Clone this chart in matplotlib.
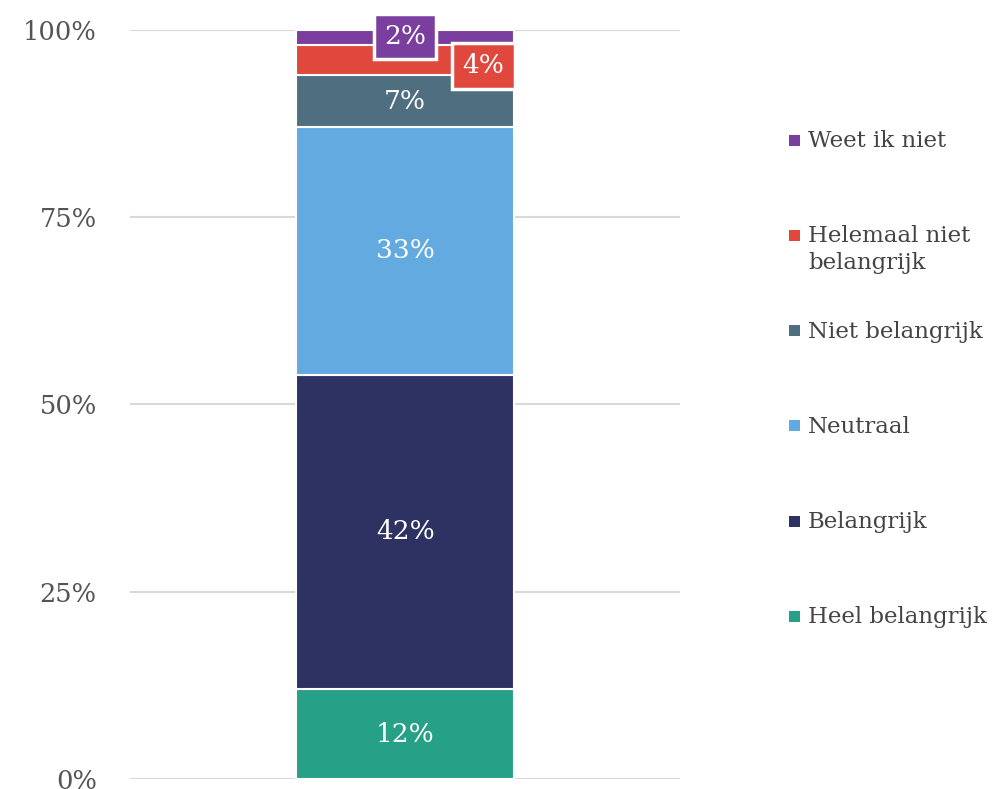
import matplotlib.pyplot as plt
from matplotlib.patches import Rectangle

# data (bottom -> top)
categories = ["Heel belangrijk", "Belangrijk", "Neutraal", "Niet belangrijk",
              "Helemaal niet\nbelangrijk", "Weet ik niet"]
values = [12, 42, 33, 7, 4, 2]
colors = ["#27a088", "#2e3262", "#62aae0", "#4f6f80", "#e0483d", "#7a3f9e"]
yticks = [0, 25, 50, 75, 100]
ytick_labels = ["0%", "25%", "50%", "75%", "100%"]

plt.rcParams['font.family'] = ['DejaVu Serif']

W, H = 993, 789
fig = plt.figure(figsize=(W / 100, H / 100), dpi=100)
ax = fig.add_axes([0.131, 0.0127, 0.554, 0.9493])

bar_w = 0.79
bottom = 0
bars = []
for v, c in zip(values, colors):
    b = ax.bar(0, v, bottom=bottom, width=bar_w, color=c,
               edgecolor="white", linewidth=1.5, zorder=3)
    bars.append((b, bottom, v, c))
    bottom += v

# labels inside the bar
for i, (b, bot, v, c) in enumerate(bars):
    mid = bot + v / 2
    txt = f"{v}%"
    if v >= 5:
        ax.text(0, mid, txt, ha="center", va="center", color="white",
                fontsize=19, zorder=5)
    elif v == 4:
        ax.text(0.285, 95.2, txt, ha="center", va="center", color="white",
                fontsize=19, zorder=6,
                bbox=dict(boxstyle="square,pad=0.4", fc=c, ec="white", lw=2.5))
    else:
        ax.text(0.0, 99.1, txt, ha="center", va="center", color="white",
                fontsize=19, zorder=7,
                bbox=dict(boxstyle="square,pad=0.38", fc=c, ec="white", lw=2.5))

ax.set_xlim(-1, 1)
ax.set_ylim(0, 100)
ax.set_yticks(yticks)
ax.set_yticklabels(ytick_labels)
ax.set_xticks([])
ax.tick_params(axis="y", length=0, pad=24, labelsize=18.5, labelcolor="#555555")
ax.yaxis.grid(True, color="#d9d9d9", linewidth=1.5, zorder=0)
for s in ax.spines.values():
    s.set_visible(False)

# legend drawn by hand, top item first, evenly spaced first lines
leg_x, leg_y0, leg_step = 789, 140, 95.3
for i, (lab, c) in enumerate(zip(categories[::-1], colors[::-1])):
    yc = leg_y0 + i * leg_step
    fig.patches.append(Rectangle(((leg_x) / W, 1 - (yc + 5.5) / H), 11 / W, 11 / H,
                                 facecolor=c, edgecolor="none",
                                 transform=fig.transFigure))
    fig.text((leg_x + 19) / W, 1 - (yc - 10) / H, lab, ha="left", va="top",
             fontsize=16.5, color="#444444", linespacing=1.25)

fig.savefig("out.png", dpi=100)
